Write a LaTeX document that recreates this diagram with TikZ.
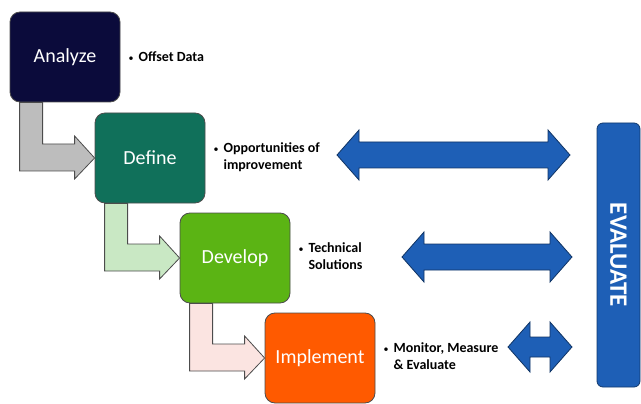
\documentclass[tikz,border=0pt]{standalone}
\usepackage{fontspec}
\setmainfont{Carlito}
\usetikzlibrary{positioning,calc}

\definecolor{analyzefill}{HTML}{0B0B3B}
\definecolor{definefill}{HTML}{10705A}
\definecolor{developfill}{HTML}{5BB414}
\definecolor{implementfill}{HTML}{FF5A00}
\definecolor{bendgray}{HTML}{BDBDBD}
\definecolor{bendgreen}{HTML}{C9E8C4}
\definecolor{bendpink}{HTML}{FBE4E1}
\definecolor{evalblue}{HTML}{1E5FB6}

\tikzset{
  stage/.style={draw=black!70, line width=0.8pt, rounded corners=10pt,
    minimum width=110pt, minimum height=90pt, text=white,
    font=\fontsize{20}{24}\selectfont},
  note/.style={font=\bfseries\fontsize{14}{17}\selectfont, inner sep=0pt},
  stepflow/.style={draw=black!70, line width=0.8pt},
  bluearrow/.style={fill=evalblue, draw=evalblue!55!black, line width=0.8pt},
  evalbar/.style={fill=evalblue, draw=evalblue!60!black, line width=0.8pt,
    rounded corners=6pt, minimum width=264pt, minimum height=43pt,
    text=white, font=\bfseries\fontsize{25}{29}\selectfont, rotate=-90},
}

% bent arrow from the bottom of one stage into the left side of the next
\newcommand{\bentarrow}[3]{%
  \draw[stepflow, fill=#3] let \p1=(#1.south west), \p2=(#2.west) in
    (\x1+10pt,\y1) -- (\x1+10pt,\y2-13pt) -- (\x2-20pt,\y2-13pt)
    -- (\x2-20pt,\y2-21pt) -- (\p2) -- (\x2-20pt,\y2+22pt)
    -- (\x2-20pt,\y2+14pt) -- (\x1+33pt,\y2+14pt) -- (\x1+33pt,\y1) -- cycle;
}
% double headed block arrow: left x, right x, mid y, shaft half height
\newcommand{\dblarrow}[4]{%
  \draw[bluearrow] (#1,#3) -- (#1+22,#3-25) -- (#1+22,#3-#4) -- (#2-22,#3-#4)
    -- (#2-22,#3-25) -- (#2,#3) -- (#2-22,#3+25) -- (#2-22,#3+#4)
    -- (#1+22,#3+#4) -- (#1+22,#3+25) -- cycle;
}
\newcommand{\dotmark}{{\mdseries\fontsize{10}{12}\selectfont\textbullet}}
\newcommand{\bulletnote}[2]{%
  \begin{tabular}{@{}l@{\hspace{5pt}}l@{}}\dotmark&#1\\&#2\end{tabular}}

\begin{document}
\begin{tikzpicture}[x=1pt,y=-1pt]
    \useasboundingbox (0,0) rectangle (641,404);

    \node[stage, fill=analyzefill] (analyze) at (65,57) {Analyze};
    \node[stage, fill=definefill] (define) at (150,158) {Define};
    \node[stage, fill=developfill] (develop) at (235,258) {Develop};
    \node[stage, fill=implementfill] (implement) at (320,358) {Implement};

    \bentarrow{analyze}{define}{bendgray}
    \bentarrow{define}{develop}{bendgreen}
    \bentarrow{develop}{implement}{bendpink}

    \node[note, right=8pt of analyze] (offset) {\dotmark\hspace{5pt}Offset Data};
    \node[note, right=8pt of define] (opport) {\bulletnote{Opportunities of}{improvement}};
    \node[note, right=8pt of develop] (technical) {\bulletnote{Technical}{Solutions}};
    \node[note, right=8pt of implement] (monitor) {\bulletnote{Monitor, Measure}{\& Evaluate}};

    \dblarrow{337}{570}{155}{13}
    \dblarrow{402}{572}{257}{13}
    \dblarrow{508}{572}{347}{10}

    \node[evalbar] (evaluate) at (618.5,255) {EVALUATE};
\end{tikzpicture}
\end{document}
